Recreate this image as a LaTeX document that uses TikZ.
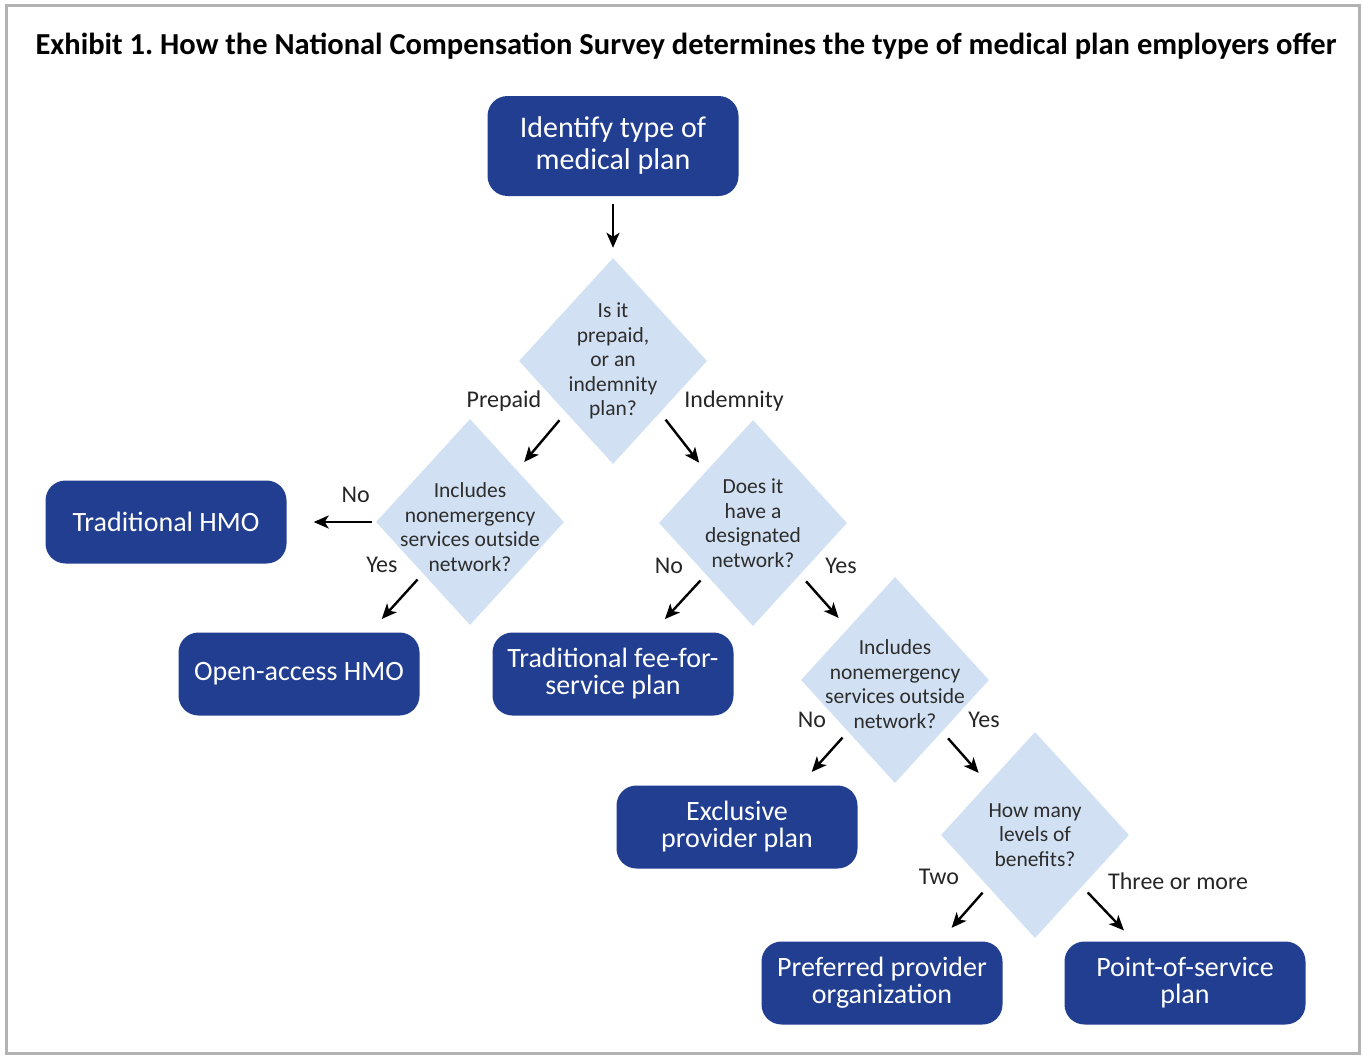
\documentclass[tikz,border=0pt]{standalone}
\usepackage{fontspec}
\setmainfont{Carlito}
\usetikzlibrary{positioning}
\usetikzlibrary{shapes.geometric}
\usetikzlibrary{calc}
\usetikzlibrary{arrows.meta}

\definecolor{planblue}{RGB}{34,62,145}
\definecolor{askblue}{RGB}{209,225,243}
\definecolor{asktext}{RGB}{45,45,45}

\tikzset{
	plan/.style={rectangle, rounded corners=20pt, fill=planblue, text=white, align=center,
		minimum width=241pt, minimum height=83pt, inner sep=0pt,
		font=\fontsize{28}{27}\selectfont},
	ask/.style={diamond, fill=askblue, minimum width=188pt, minimum height=206pt, inner sep=0pt},
	asktxt/.style={align=center, text=asktext, font=\fontsize{21.5}{24.5}\selectfont},
	ans/.style={text=black!85, font=\fontsize{24}{28}\selectfont},
	arr/.style={-{Stealth[length=15pt,width=13pt,inset=4pt]}, line width=2.4pt,
		shorten <=8pt, shorten >=18pt},
}

\begin{document}
\frenchspacing
\begin{tikzpicture}[x=1pt,y=-1pt]
	\useasboundingbox (0,0) rectangle (1364,1057);
	\fill[white] (0,0) rectangle (1364,1057);
	\draw[black!30,line width=3pt] (6,6) rectangle (1359,1053);			% frame
	\node[font=\bfseries\fontsize{30.5}{34}\selectfont] (title) at (686,46)
		{Exhibit 1. How the National Compensation Survey determines the type of medical plan employers offer};
	% plans
	\node[plan, minimum width=251pt, minimum height=100pt, font=\fontsize{30}{32}\selectfont] (idt) at (613,146)
		{Identify type of\\medical plan};
	\node[plan] (thmo) at (166,522) {Traditional HMO};
	\node[plan] (oahmo) at (299,674) {Open-access HMO};
	\node[plan] (ftfs) at (613,674) {Traditional fee-for-\\service plan};
	\node[plan] (epp) at (737,827) {Exclusive\\provider plan};
	\node[plan] (ppo) at (882,983) {Preferred provider\\organization};
	\node[plan] (pos) at (1185,983) {Point-of-service\\plan};
	% questions
	\node[ask, label={[asktxt]center:{Is it\\prepaid,\\or an\\indemnity\\plan?}}] (q1) at (613,361) {};
	\node[ask, label={[asktxt, yshift=-5pt]center:{Includes\\nonemergency\\services outside\\network?}}] (q2) at (470,522) {};
	\node[ask, label={[asktxt]center:{Does it\\have a\\designated\\network?}}] (q3) at (753,523) {};
	\node[ask, label={[asktxt, yshift=-4pt]center:{Includes\\nonemergency\\services outside\\network?}}] (q4) at (895,680) {};
	\node[ask, label={[asktxt]center:{How many\\levels of\\benefits?}}] (q5) at (1035,835) {};
	% answers
	\node[ans] (pre) at ($(q1.south west)+(-62,-12)$) {Prepaid};
	\node[ans] (ind) at ($(q1.south east)+(74,-12)$) {Indemnity};
	\node[ans] (q2no) at ($(q2.west)+(-20,-27)$) {No};
	\node[ans] (q2yes) at ($(q2.south west)+(-41,-9)$) {Yes};
	\node[ans] (q3no) at ($(q3.south west)+(-37,-9)$) {No};
	\node[ans] (q3yes) at ($(q3.south east)+(41,-9)$) {Yes};
	\node[ans] (q4no) at ($(q4.south west)+(-36,-12)$) {No};
	\node[ans] (q4yes) at ($(q4.south east)+(42,-12)$) {Yes};
	\node[ans] (q5two) at ($(q5.south west)+(-49,-10)$) {Two};
	\node[ans] (q5three) at ($(q5.south east)+(96,-5)$) {Three or more};
	% arrows
	\draw[arr, shorten <=8pt, shorten >=10pt] (idt) -- (q1);
	\draw[arr, shorten <=10pt, shorten >=11pt] (q1.south west) -- (q2.north east);
	\draw[arr, shorten <=9pt, shorten >=11pt] (q1.south east) -- (q3.north west);
	\draw[arr, shorten <=4pt, shorten >=27pt] (q2.west) -- (thmo.east);
	\draw[arr] (q2.south west) -- ([xshift=-50pt]oahmo.north east);
	\draw[arr] (q3.south west) -- ([xshift=-81pt]ftfs.north east);
	\draw[arr, shorten <=9pt, shorten >=14pt] (q3.south east) -- (q4.north west);
	\draw[arr] (q4.south west) -- ([xshift=-58pt]epp.north east);
	\draw[arr, shorten <=9pt, shorten >=14pt] (q4.south east) -- (q5.north west);
	\draw[arr] (q5.south west) -- ([xshift=-63pt]ppo.north east);
	\draw[arr, shorten >=15pt] (q5.south east) -- ([xshift=70pt]pos.north west);
\end{tikzpicture}
\end{document}
